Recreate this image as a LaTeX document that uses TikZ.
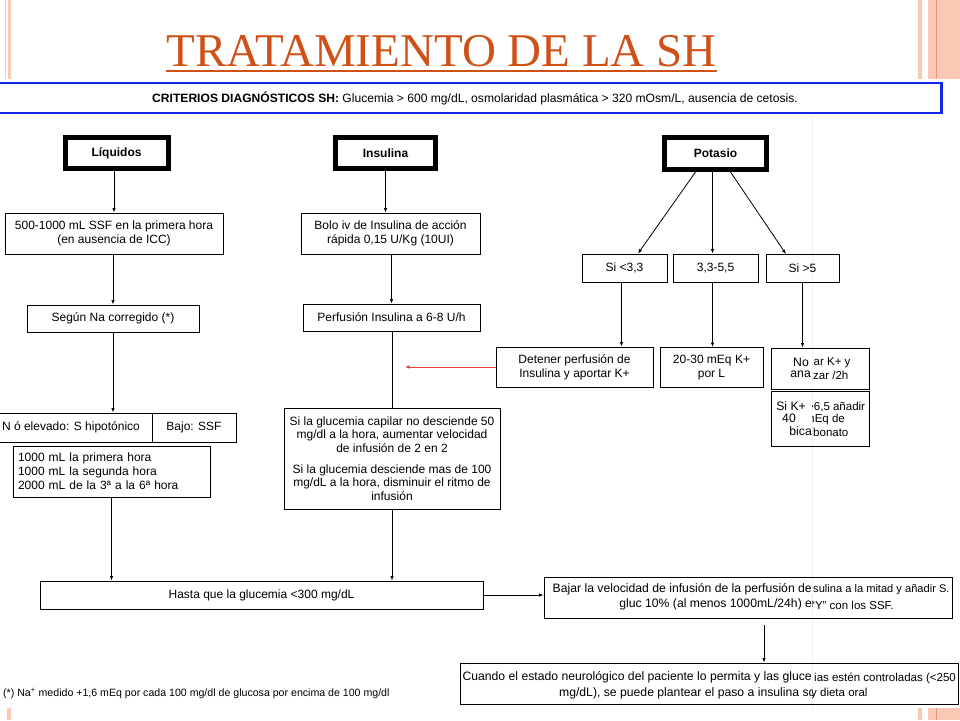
\documentclass[tikz,border=0pt]{standalone}
\usepackage{fontspec}
\setmainfont{Liberation Sans}
\newfontfamily\titlefont{Liberation Serif}
\usetikzlibrary{arrows.meta,calc}
\definecolor{titleorange}{RGB}{206,82,24}
\definecolor{slidepink}{RGB}{250,200,180}
\definecolor{slideline}{RGB}{232,150,110}
\definecolor{critblue}{RGB}{16,40,230}
\definecolor{redarrow}{RGB}{235,60,60}
\begin{document}
\begin{tikzpicture}[x=1pt,y=-1pt,
  box/.style={draw, line width=0.9pt, inner sep=0pt, align=center, font=\fontsize{12}{14}\selectfont},
  headbox/.style={draw, line width=5pt, inner sep=0pt, font=\bfseries\fontsize{12}{14}\selectfont},
  frag/.style={inner sep=0pt, font=\fontsize{12.2}{14}\selectfont},
  fragr/.style={inner sep=0pt, font=\fontsize{11.5}{13}\selectfont},
  arr/.style={-{Latex[length=4.5pt,width=3.5pt]}, line width=0.8pt},
  plainline/.style={line width=0.8pt},
  deco/.style={fill=slidepink, draw=none}]
\useasboundingbox (0,0) rectangle (960,720);
\fill[white] (0,0) rectangle (960,720);
% slide decorations
\fill[deco] (5,0) rectangle (6.3,79);
\fill[deco] (7.5,0) rectangle (11,79);
\fill[deco] (7,708) rectangle (11,720);
\fill[deco] (918,0) rectangle (922,79);
\fill[deco] (928,0) rectangle (960,79);
\fill[slideline] (935.8,0) rectangle (936.8,79);
\fill[deco] (918,708) rectangle (922,720);
\fill[deco] (928,708) rectangle (960,720);
\fill[slideline] (935.8,708) rectangle (936.8,720);
% seam
\draw[gray!12, line width=0.6pt] (812,116) -- (812,712);
% title
\node[font=\titlefont\fontsize{47}{50}\selectfont, text=titleorange, anchor=base, inner sep=0pt] (title) at (441.5,66) {TRATAMIENTO DE LA SH};
\draw[titleorange, line width=2pt] ($(title.base west)+(0,5)$) -- ($(title.base east)+(0,5)$);
% criteria
\node[draw=critblue, line width=2.6pt, minimum width=950, minimum height=30, inner sep=0pt] (critbox) at (466.5,98) {};
\node[font=\fontsize{12.1}{14}\selectfont, anchor=west, inner sep=0pt] (crit) at (152,98) {\textbf{CRITERIOS DIAGNÓSTICOS SH:} Glucemia > 600 mg/dL, osmolaridad plasmática > 320 mOsm/L, ausencia de cetosis.};
% heads
\node[headbox, minimum width=103, minimum height=31] (liq) at (116.5,153) {Líquidos};
\node[headbox, minimum width=100, minimum height=31] (ins) at (385.5,153) {Insulina};
\node[headbox, minimum width=102, minimum height=32] (pot) at (715.5,153.5) {Potasio};
% liquids column
\node[box, minimum width=218, minimum height=41] (a1) at (114,233.5) {500-1000 mL SSF en la primera hora\\(en ausencia de ICC)};
\node[box, minimum width=172, minimum height=27] (a2) at (113,318.5) {Según Na corregido (*)};
\node[box, minimum width=162, minimum height=29] (a3l) at (71,427.5) {N ó elevado: S hipotónico};
\node[box, minimum width=84, minimum height=29] (a3r) at (194,427.5) {Bajo: SSF};
\node[box, minimum width=197, minimum height=51, text width=187, inner xsep=5pt, align=left] (a4) at (111.5,471.5) {1000 mL la primera hora\\1000 mL la segunda hora\\2000 mL de la 3ª a la 6ª hora};
% insulin column
\node[box, minimum width=179, minimum height=41] (b1) at (390.5,233.5) {Bolo iv de Insulina de acción\\rápida 0,15 U/Kg (10UI)};
\node[box, minimum width=177, minimum height=27] (b2) at (391.5,317.5) {Perfusión Insulina a 6-8 U/h};
\node[box, minimum width=216, minimum height=101, font=\fontsize{12}{13.3}\selectfont] (b3) at (392,458.5) {Si la glucemia capilar no desciende 50\\mg/dl a la hora, aumentar velocidad\\de infusión de 2 en 2\\[8pt]Si la glucemia desciende mas de 100\\mg/dL a la hora, disminuir el ritmo de\\infusión};
\node[box, minimum width=443, minimum height=28] (hasta) at (261.5,595) {Hasta que la glucemia <300 mg/dL};
\node[box, minimum width=408, minimum height=41] (bajar) at (748,597.5) {};
\node[box, minimum width=498, minimum height=41] (cuando) at (709,683.5) {};
% potassium column
\node[box, minimum width=85, minimum height=28] (k1) at (624.5,268) {Si <3,3};
\node[box, minimum width=85, minimum height=28] (k2) at (715.5,268) {3,3-5,5};
\node[box, minimum width=73, minimum height=28] (k3) at (802.5,268.5) {Si >5};
\node[box, minimum width=157, minimum height=40] (d1) at (574.5,367) {Detener perfusión de\\Insulina y aportar K+};
\node[box, minimum width=103, minimum height=40] (d2) at (711.5,367.5) {20-30 mEq K+\\por L};
\node[box, minimum width=98, minimum height=41] (d3) at (820,368.5) {};
\node[box, minimum width=98, minimum height=55] (d4) at (820,418.5) {};
% fragments, left layer
\begin{scope}
\clip (0,0) rectangle (812,720);
\node[frag, anchor=east] (f1) at (809,362) {No};
\node[frag, anchor=east] (f2) at (811,374.5) {ana};
\node[frag, anchor=east] (f3) at (806,406) {Si K+};
\node[frag, anchor=east] (f4) at (796,418.5) {40};
\node[frag, anchor=east] (f5) at (812,431) {bica};
\node[frag, anchor=east] (f6) at (812,589) {Bajar la velocidad de infusión de la perfusión de};
\node[frag, anchor=east] (f7) at (819,604) {gluc 10\% (al menos 1000mL/24h) en};
\node[frag, anchor=east] (f8) at (812,677) {Cuando el estado neurológico del paciente lo permita y las gluce};
\node[frag, anchor=east] (f9) at (815,693) {mg/dL), se puede plantear el paso a insulina sc};
\end{scope}
% fragments, right layer
\begin{scope}
\clip (812,0) rectangle (960,720);
\node[fragr, anchor=west] (g1) at (813.5,363) {ar K+ y};
\node[fragr, anchor=west] (g2) at (813,375.5) {zar /2h};
\node[fragr, anchor=west] (g3) at (807,407) {>6,5 añadir};
\node[fragr, anchor=west] (g4) at (805,419.5) {mEq de};
\node[fragr, anchor=west] (g5) at (813,432) {bonato};
\node[fragr, anchor=west, font=\fontsize{11.1}{13}\selectfont] (g6) at (813,590) {sulina a la mitad y añadir S.};
\node[fragr, anchor=west] (g7) at (811,605) {“Y” con los SSF.};
\node[fragr, anchor=west] (g8) at (814,678) {ias estén controladas (<250};
\node[fragr, anchor=west] (g9) at (811,694) {y dieta oral};
\end{scope}
% footnote
\node[font=\fontsize{10.6}{12}\selectfont, anchor=west, inner sep=0pt] (foot) at (3,693) {(*) Na\textsuperscript{+} medido +1,6 mEq por cada 100 mg/dl de glucosa por encima de 100 mg/dl};
% connectors
\draw[arr] (a1.north |- liq.south) -- (a1.north);
\draw[arr] (a2.north |- a1.south) -- (a2.north);
\draw[arr] (a2.south) -- (a2.south |- a3l.north);
\draw[arr] (a4.south) -- (a4.south |- hasta.north);
\draw[arr] (ins.south) -- (ins.south |- b1.north);
\draw[arr] (b2.north |- b1.south) -- (b2.north);
\draw[plainline] (b3.north |- b2.south) -- (b3.north);
\draw[arr] (b3.south) -- (b3.south |- hasta.north);
\draw[arr] (hasta.east) -- (hasta.east -| bajar.west);
\draw[arr, shorten <=7pt] ($(bajar.south)+(16,0)$) -- ($(cuando.north)+(55,0)$);
\draw[arr] ($(pot.south)+(-20,0)$) -- ($(k1.north)+(13.5,0)$);
\draw[arr] ($(pot.south)+(-3,0)$) -- ($(k2.north)+(-3,0)$);
\draw[arr] ($(pot.south)+(15,0)$) -- ($(k3.north)+(-16.5,0)$);
\draw[arr] ($(k1.south)+(-3,0)$) -- ($(k1.south |- d1.north)+(-3,0)$);
\draw[arr] ($(k2.south)+(-3,0)$) -- ($(k2.south |- d2.north)+(-3,0)$);
\draw[arr] (k3.south) -- (k3.south |- d3.north);
\coordinate (redend) at (405,367);
\draw[arr, color=redarrow, line width=1pt] (d1.west) -- (redend);
\end{tikzpicture}
\end{document}
